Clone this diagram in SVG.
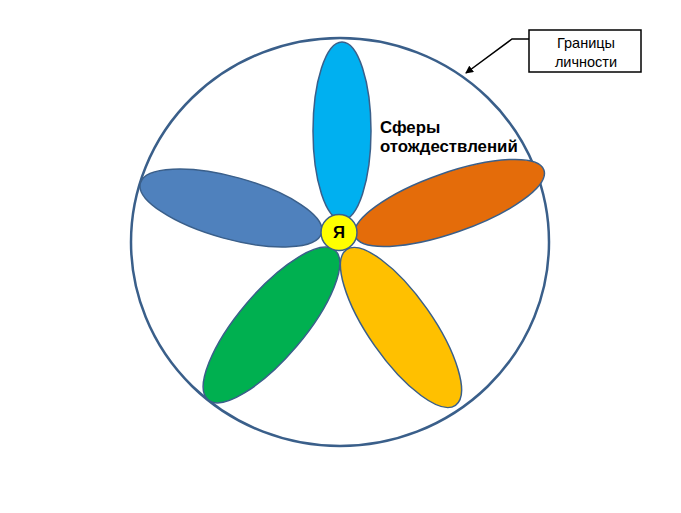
<svg xmlns="http://www.w3.org/2000/svg" width="681" height="513" viewBox="0 0 681 513">
<style>
.petal{stroke:#3A5F8A;stroke-width:1.5}
.lbl{font-family:"Liberation Sans",Arial,sans-serif;font-size:14.5px;fill:#000}
.bold{font-family:"Liberation Sans",Arial,sans-serif;font-size:16.8px;font-weight:bold;fill:#000}
</style>
<defs>
<marker id="arr" markerWidth="8" markerHeight="8" refX="7" refY="4" orient="auto" markerUnits="userSpaceOnUse">
<path d="M0,0 L8,4 L0,8 Z" fill="#000"/>
</marker>
</defs>
<rect width="681" height="513" fill="#fff"/>
<g id="boundary">
<ellipse cx="340" cy="242" rx="209" ry="204" fill="none" stroke="#3A5F8A" stroke-width="2.5"/>
</g>
<g id="petal-top"><ellipse class="petal" cx="342" cy="131" rx="29" ry="89" fill="#00B0F0"/></g>
<g id="petal-right"><ellipse class="petal" cx="0" cy="0" rx="100" ry="30" fill="#E46C0A" transform="translate(449.5,203) rotate(-19.3)"/></g>
<g id="petal-left"><ellipse class="petal" cx="0" cy="0" rx="94" ry="31" fill="#4F81BD" transform="translate(231,208) rotate(15.4)"/></g>
<g id="petal-bl"><ellipse class="petal" cx="0" cy="0" rx="98" ry="33" fill="#00B050" transform="translate(271.5,325) rotate(-49.7)"/></g>
<g id="petal-br"><ellipse class="petal" cx="0" cy="0" rx="95" ry="32" fill="#FFC000" transform="translate(401,327.5) rotate(55)"/></g>
<g id="center">
<circle cx="339" cy="232.5" r="18" fill="#FFFF00" stroke="#3A5F8A" stroke-width="1.5"/>
<text x="339" y="238" text-anchor="middle" class="bold" font-size="15">Я</text>
</g>
<g id="spheres-label"><text class="bold"><tspan x="380" y="133">Сферы</tspan><tspan x="380" y="152">отождествлений</tspan></text></g>
<g id="note">
<rect x="529" y="30" width="112" height="42" fill="#fff" stroke="#000" stroke-width="1.5"/>
<text class="lbl" text-anchor="middle"><tspan x="586" y="48">Границы</tspan><tspan x="586" y="67">личности</tspan></text>
</g>
<g id="connectors">
<polyline points="529,39 512,39 466,73" fill="none" stroke="#000" stroke-width="1.5" marker-end="url(#arr)"/>
</g>
</svg>
